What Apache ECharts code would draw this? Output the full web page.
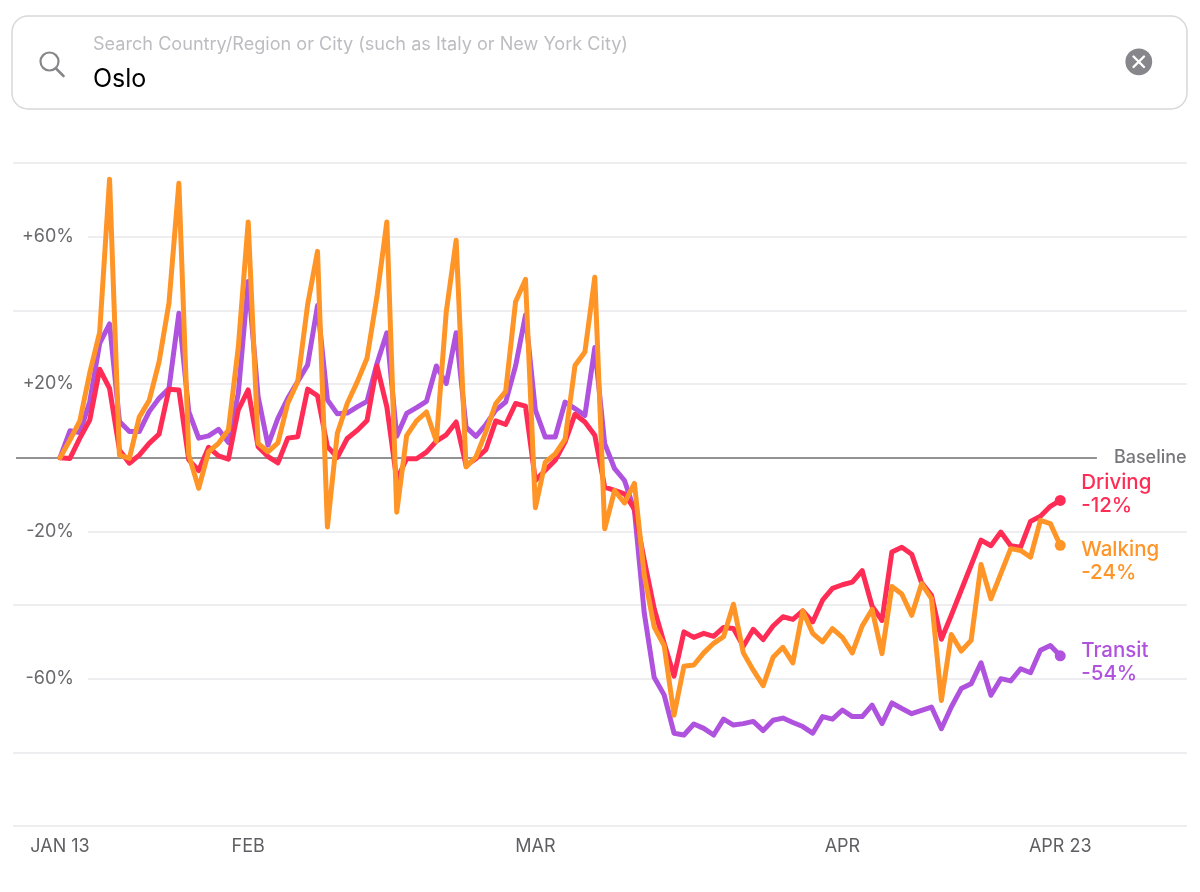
<!DOCTYPE html>
<html>
<head>
<meta charset="utf-8">
<style>
    html, body { margin: 0; padding: 0; background: #fff; }
    #chart { width: 1200px; height: 892px; }
</style>
<script src="https://cdn.jsdelivr.net/npm/echarts@6/dist/echarts.min.js"></script>
</head>
<body>
<div id="chart"></div>
<script>
// days since Jan 13, one value per day
const driving = [0, -0.2, 5.3, 10.2, 24, 18.8, 2.1, -1.5, 0.7, 3.9, 6.4, 18.6, 18.4, -0.6, -3.5, 2.8, 0.5, -0.4, 13, 18.4,
    3, 0.3, -1.4, 5.3, 5.7, 18.6, 16.8, 3, 0.1, 5.2, 7.4, 10.1, 24.9, 13.8, -6, -0.3, -0.3, 1.5, 4.5, 6.2,
    9.7, -2.1, -0.3, 2.2, 10, 9, 14.7, 14, -6.2, -3.4, -0.7, 4.3, 11.8, 9.7, 6.1, -8, -8.9, -9.8, -14, -27.9,
    -41, -50.4, -59.3, -47.3, -48.8, -47.7, -48.5, -46.1, -46.4, -51.2, -46.6, -49.4, -45.7, -43.2, -43.9, -41.6, -44.6, -38.7, -35.5, -34.5,
    -33.8, -30.7, -40.3, -44.2, -25.6, -24.3, -26.2, -34, -37.4, -49.3, -42.8, -36, -29.2, -22.4, -23.9, -20.2, -23.9, -24.3, -17.3, -15.9,
    -13.2, -11.6];
const walking = [0, 4.8, 10, 23, 34, 75.6, 0.7, -0.2, 11, 15.5, 26, 42, 74.5, 0.7, -8.3, 1.6, 3.9, 7.5, 30, 64,
    3.9, 1.6, 4, 14.8, 20.6, 41.5, 56, -18.8, 6.6, 14.7, 20.5, 27, 43.7, 64, -14.8, 6, 10, 12.4, 4.5, 39.6,
    59, -2.5, 0.2, 7, 14.7, 18, 42.3, 48.4, -13.6, -1.2, 1, 5, 25, 28.7, 49, -19.3, -8.9, -12.3, -7, -32,
    -46, -51, -69.9, -56.6, -56.3, -53, -50.4, -48.6, -39.8, -53, -57.7, -61.9, -54.2, -51.5, -55.7, -41.6, -47.7, -50, -46.4, -48.8,
    -53, -45.7, -41.2, -53.2, -35, -37, -42.8, -34.2, -38.3, -65.9, -48, -52.5, -49.6, -29, -38.3, -31.5, -24.7, -25.2, -27, -17,
    -17.9, -23.8];
const transit = [0, 7.3, 6.8, 15.2, 31, 36.3, 9.8, 7.1, 7.1, 12.5, 16.1, 18.8, 39.2, 12.5, 5.3, 5.9, 7.7, 4.1, 17.5, 47.8,
    16.6, 3.4, 10.7, 16.1, 20.7, 25.2, 41.3, 15.7, 11.9, 12.1, 13.8, 15.3, 25.5, 33.9, 5.8, 12, 13.6, 15.3, 24.9, 20.1,
    33.9, 8.3, 5.8, 9, 12.9, 15.1, 24.9, 38.7, 12.9, 5.6, 5.6, 15.1, 13.3, 11.5, 29.9, 3.8, -3, -6.2, -14.3, -42.3,
    -59.7, -64.4, -74.8, -75.3, -72.3, -73.5, -75.3, -71, -72.6, -72.2, -71.6, -74.1, -71.3, -70.7, -71.9, -73, -74.8, -70.3, -71, -68.5,
    -70.3, -70.3, -67.2, -72.2, -66.6, -68.1, -69.5, -68.6, -67.7, -73.6, -67.7, -62.7, -61.4, -55.7, -64.5, -60, -60.6, -57.3, -58.4, -52.3,
    -51, -53.8];

const tickDays = [0, 19, 48, 79, 101];
const tickNames = ['JAN 13', 'FEB', 'MAR', 'APR', 'APR 23'];
const labelledLevels = [60, 20, -20, -60];
const plainLevels = [80, 40, -40, -80, -100];

const font = 'Inter';
const xMin = -4.75, xMax = 113.8;      // x axis runs past the data on both sides
const labelledFrom = 2.83;             // labelled grid lines start right of their label
const baselineFrom = -4.45, baselineTo = 104.7;

const lineSeries = (name, values, color, labelOffset) => ({
    name: name,
    type: 'line',
    zlevel: 1,   // keeps the end labels above the grid lines
    z: 3,
    data: values.map((v, i) => [i, v]),
    symbol: 'circle',
    showSymbol: true,
    showAllSymbol: true,
    symbolSize: (v, p) => (p.dataIndex === values.length - 1 ? 11 : 0),
    itemStyle: {color: color},
    lineStyle: {color: color, width: 5, join: 'round', cap: 'round'},
    emphasis: {disabled: true},
    endLabel: {
        show: true,
        color: color,
        fontFamily: font,
        fontWeight: 500,
        fontSize: 20.5,
        lineHeight: 23,
        distance: 21,
        offset: labelOffset,
        formatter: (p) => name + '\n' + Math.round(p.value[1]) + '%'
    }
});

const levelLine = (from, level) => [
    {coord: [from, level]},
    {coord: [xMax, level]}
];

const chart = echarts.init(document.getElementById('chart'), null, {renderer: 'canvas'});

chart.setOption({
    animation: false,
    backgroundColor: '#fff',
    grid: {left: 13, right: 13, top: 163, bottom: 66},
    xAxis: {
        type: 'value',
        min: xMin,
        max: xMax,
        splitLine: {show: false},
        axisLine: {show: false},
        axisTick: {show: false},
        axisLabel: {
            customValues: tickDays,
            formatter: (v) => tickNames[tickDays.indexOf(v)],
            color: '#5f5f63',
            fontFamily: font,
            fontSize: 18,
            margin: 12,
            hideOverlap: false
        }
    },
    yAxis: {
        type: 'value',
        min: -100,
        max: 80,
        interval: 20,
        splitLine: {show: false},
        axisLine: {show: false},
        axisTick: {show: false},
        axisLabel: {
            customValues: labelledLevels,
            inside: true,
            align: 'right',
            margin: 61,
            formatter: (v) => (v > 0 ? '+' : '') + v + '%',
            color: '#6a6a6e',
            fontFamily: font,
            fontSize: 18
        }
    },
    series: [
        {
            name: 'grid',
            type: 'line',
            z: 1,
            data: [],
            silent: true,
            markLine: {
                silent: true,
                symbol: 'none',
                animation: false,
                label: {show: false},
                lineStyle: {color: '#e9e9eb', width: 1.5, type: 'solid'},
                data: labelledLevels.map((l) => levelLine(labelledFrom, l))
                    .concat(plainLevels.map((l) => levelLine(xMin, l)))
            }
        },
        {
            name: 'baseline',
            type: 'line',
            z: 2,
            data: [],
            silent: true,
            markLine: {
                silent: true,
                symbol: 'none',
                animation: false,
                lineStyle: {color: '#6e6e70', width: 1.5, type: 'solid'},
                label: {
                    show: true,
                    position: 'end',
                    distance: 17,
                    formatter: 'Baseline',
                    color: '#77777b',
                    fontFamily: font,
                    fontWeight: 500,
                    fontSize: 18
                },
                data: [[{coord: [baselineFrom, 0]}, {coord: [baselineTo, 0]}]]
            }
        },
        lineSeries('Transit', transit, '#AF52DE', [0, 7]),
        lineSeries('Driving', driving, '#FF2D55', [0, -6]),
        lineSeries('Walking', walking, '#FF9526', [0, 16])
    ],
    graphic: [
        {
            type: 'rect',
            shape: {x: 12, y: 16, width: 1175, height: 93, r: 16},
            style: {fill: '#fff', stroke: '#d8d8dc', lineWidth: 1.5}
        },
        {
            type: 'circle',
            shape: {cx: 49.5, cy: 61.5, r: 9},
            style: {fill: 'none', stroke: '#87878b', lineWidth: 2.2}
        },
        {
            type: 'line',
            shape: {x1: 56, y1: 68.5, x2: 63.5, y2: 76},
            style: {stroke: '#87878b', lineWidth: 2.6, lineCap: 'round'}
        },
        {
            type: 'text',
            style: {
                x: 93, y: 45, text: 'Search Country/Region or City (such as Italy or New York City)',
                fill: '#bdbdc1', font: '18.1px ' + font, verticalAlign: 'middle'
            }
        },
        {
            type: 'text',
            style: {
                x: 93, y: 79.5, text: 'Oslo',
                fill: '#000', font: '25px ' + font, verticalAlign: 'middle'
            }
        },
        {
            type: 'circle',
            shape: {cx: 1138.8, cy: 61.8, r: 13.4},
            style: {fill: '#87878b'}
        },
        {
            type: 'line',
            shape: {x1: 1133.5, y1: 56.5, x2: 1144, y2: 67},
            style: {stroke: '#fff', lineWidth: 2.4, lineCap: 'round'}
        },
        {
            type: 'line',
            shape: {x1: 1144, y1: 56.5, x2: 1133.5, y2: 67},
            style: {stroke: '#fff', lineWidth: 2.4, lineCap: 'round'}
        }
    ]
});
</script>
</body>
</html>
